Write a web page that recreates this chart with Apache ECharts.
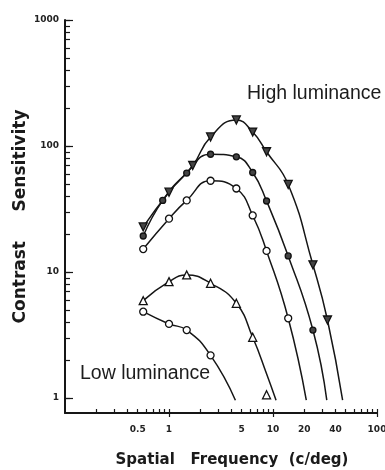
<!DOCTYPE html>
<html><head><meta charset="utf-8">
<script src="https://cdn.jsdelivr.net/npm/echarts@6/dist/echarts.min.js"></script>
<style>html,body{margin:0;padding:0;background:#fff}#c{width:385px;height:470px}</style>
</head><body><div id="c"></div>
<script>
// ---------- data (spatial frequency c/deg, contrast sensitivity) ----------
const curve1Points = [[0.565,22.8],[1.0,43],[1.69,70],[2.51,118],[4.44,161],[6.38,129],[8.67,90],[14.0,49.5],[24.2,11.4],[33.4,4.16]];
const curve1End = [46.7,0.96];
const curve2Points = [[0.565,19.3],[0.87,37],[1.48,61],[2.51,86],[4.44,82],[6.38,61.6],[8.67,36.6],[14.0,13.4],[24.2,3.46]];
const curve2End = [32.9,0.96];
const curve3Points = [[0.565,15.2],[1.0,26.5],[1.48,37],[2.51,53],[4.44,46],[6.38,28.1],[8.67,14.7],[14.0,4.29]];
const curve3End = [20.9,0.96];
const curve4Points = [[0.565,5.92],[1.0,8.38],[1.48,9.47],[2.51,8.13],[4.44,5.64],[6.38,3.03],[8.67,1.06]];
const curve4Line = [[0.565,5.92],[1.0,8.38],[1.48,9.47],[2.51,8.13],[4.44,5.64],[6.38,3.03],[8.67,1.56],[10.7,0.96]];
const curve5Points = [[0.565,4.84],[1.0,3.87],[1.48,3.46],[2.51,2.18]];
const curve5End = [4.35,0.96];

const xTicks = [0.2,0.3,0.4,0.5,0.6,0.7,0.8,0.9,1,2,3,4,5,6,7,8,9,10,20,30,40,50,60,70,80,90,100];
const xMajorTicks = [1,10,100];
const xTickLabels = ['0.5','1','5','10','20','40','100'];
const yTicks = [1,2,3,4,5,6,7,8,9,10,20,30,40,50,60,70,80,90,100,200,300,400,500,600,700,800,900,1000];
const yMajorTicks = [1,10,100,1000];
const yTickLabels = ['1','10','100','1000'];

const xMin = 0.1, xMax = 100, yMin = 0.76, yMax = 1000;

// ---------- chart ----------
const L = Math.log10;
const chart = echarts.init(document.getElementById('c'), null, {renderer:'canvas'});
const ink = '#161616';
const xLabelLogs = xTickLabels.map(s => L(parseFloat(s)));
const yLabelLogs = yTickLabels.map(s => L(parseFloat(s)));
function labelFor(logs, labels){
  return v => { const i = logs.findIndex(l => Math.abs(l - v) < 1e-6); return i >= 0 ? labels[i] : ''; };
}
const hiddenLine = {show:false, onZero:false};
const tickFont = {fontFamily:'DejaVu Sans', fontWeight:'bold', fontSize:9, color:'#222'};

function lineSeries(data){
  return {type:'line', data:data, xAxisIndex:0, yAxisIndex:0, smooth:0.5, showSymbol:false,
    symbol:'none', lineStyle:{color:ink, width:1.5}, silent:true, z:2};
}
function pointSeries(data, symbol, size, fill, rot){
  return {type:'scatter', data:data, xAxisIndex:0, yAxisIndex:0, symbol:symbol, symbolSize:size,
    symbolRotate:rot||0, itemStyle:{color:fill, borderColor:'#111', borderWidth:1.3, opacity:1}, z:3};
}

chart.setOption({
  animation:false,
  backgroundColor:'#fff',
  grid:{left:65, top:20, width:312, height:393, containLabel:false, outerBoundsMode:'none'},
  xAxis:[
    {type:'log', min:xMin, max:xMax, position:'bottom',
     axisLine:{show:true, onZero:false, lineStyle:{color:ink, width:2}},
     axisTick:{show:false}, axisLabel:{show:false}, splitLine:{show:false}, minorTick:{show:false}},
    {type:'value', min:L(xMin), max:L(xMax), position:'bottom',
     axisLine:hiddenLine,
     axisTick:{show:true, inside:true, length:4, customValues:xTicks.map(L), lineStyle:{color:ink, width:1.2}},
     axisLabel:{show:true, customValues:xLabelLogs, formatter:labelFor(xLabelLogs, xTickLabels), margin:12, ...tickFont},
     splitLine:{show:false},
     name:'Spatial   Frequency  (c/deg)', nameLocation:'middle', nameGap:40, nameMoveOverlap:false,
     nameTextStyle:{fontFamily:'DejaVu Sans', fontWeight:'bold', fontSize:15, color:'#1a1a1a', padding:[0,0,0,22]}},
    {type:'value', min:L(xMin), max:L(xMax), position:'bottom',
     axisLine:hiddenLine,
     axisTick:{show:true, inside:false, length:4, customValues:xMajorTicks.map(L), lineStyle:{color:ink, width:1.2}},
     axisLabel:{show:false}, splitLine:{show:false}}
  ],
  yAxis:[
    {type:'log', min:yMin, max:yMax, position:'left',
     axisLine:{show:true, onZero:false, lineStyle:{color:ink, width:2}},
     axisTick:{show:false}, axisLabel:{show:false}, splitLine:{show:false}, minorTick:{show:false}},
    {type:'value', min:L(yMin), max:L(yMax), position:'left',
     axisLine:hiddenLine,
     axisTick:{show:true, inside:true, length:5, customValues:yTicks.map(L), lineStyle:{color:ink, width:1.2}},
     axisLabel:{show:true, customValues:yLabelLogs, formatter:labelFor(yLabelLogs, yTickLabels), margin:6, ...tickFont},
     splitLine:{show:false},
     name:'Contrast     Sensitivity', nameLocation:'middle', nameGap:36, nameRotate:90, nameMoveOverlap:false,
     nameTextStyle:{fontFamily:'DejaVu Sans', fontWeight:'bold', fontSize:17, color:'#1a1a1a'}},
    {type:'value', min:L(yMin), max:L(yMax), position:'left',
     axisLine:hiddenLine,
     axisTick:{show:true, inside:true, length:8, customValues:yMajorTicks.map(L), lineStyle:{color:ink, width:1.2}},
     axisLabel:{show:false}, splitLine:{show:false}}
  ],
  graphic:[
    {type:'text', left:247, top:84, style:{text:'High luminance', font:'19.5px "Liberation Sans", Arial, sans-serif', fill:'#1c1c1c'}},
    {type:'text', left:80, top:364, style:{text:'Low luminance', font:'19.5px "Liberation Sans", Arial, sans-serif', fill:'#1c1c1c'}}
  ],
  series:[
    lineSeries(curve1Points.concat([curve1End])),
    lineSeries(curve2Points.concat([curve2End])),
    lineSeries(curve3Points.concat([curve3End])),
    lineSeries(curve4Line),
    lineSeries(curve5Points.concat([curve5End])),
    pointSeries(curve1Points, 'triangle', 8, '#444', 180),
    pointSeries(curve2Points, 'circle', 6, '#444'),
    pointSeries(curve3Points, 'circle', 7, '#fff'),
    pointSeries(curve4Points, 'triangle', 8, '#fff'),
    pointSeries(curve5Points, 'circle', 7, '#fff')
  ]
});
</script></body></html>
